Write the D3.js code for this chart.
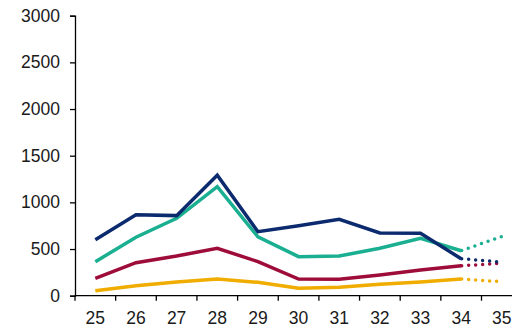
<!DOCTYPE html>
<html>
<head>
<meta charset="utf-8">
<script src="https://cdn.jsdelivr.net/npm/d3@7"></script>
<style>
  body { margin: 0; background: #fff; }
  svg text { font-family: "Liberation Sans", Arial, sans-serif; fill: #1a1a1a; }
</style>
</head>
<body>
<div id="chart"></div>
<script>
// categorias (eje x)
const categories = [25, 26, 27, 28, 29, 30, 31, 32, 33, 34, 35];
const yTicks = [0, 500, 1000, 1500, 2000, 2500, 3000];

// series observadas (25..34) y proyeccion punteada (34..35)
const navy   = [600, 868, 858, 1290, 686, 750, 818, 672, 668, 396];
const teal   = [364, 626, 829, 1168, 630, 418, 425, 508, 615, 482];
const red    = [186, 354, 425, 508, 365, 179, 176, 222, 275, 321];
const gold   = [54, 107, 147, 179, 143, 79, 90, 122, 147, 179];

const navyProj = [396, 360];
const tealProj = [482, 635];
const redProj  = [321, 347];
const goldProj = [179, 150];

const series = [
    { name: 'gold', color: '#f0ad00', values: gold, proj: goldProj },
    { name: 'red',  color: '#9e0c3a', values: red,  proj: redProj },
    { name: 'teal', color: '#1aaf91', values: teal, proj: tealProj },
    { name: 'navy', color: '#0c2a6e', values: navy, proj: navyProj }
];

const W = 512, H = 331;
const mLeft = 75, mTop = 15.7, mBottom = 295.7;
const band = 40.65;

const svg = d3.select('#chart').append('svg')
    .attr('width', W)
    .attr('height', H);

const x = d3.scaleBand()
    .domain(categories)
    .range([mLeft, mLeft + band * categories.length])
    .padding(0);

const y = d3.scaleLinear()
    .domain([0, 3000])
    .range([mBottom, mTop]);

const cx = c => x(c) + x.bandwidth() / 2;

// Eje Y
const yAxis = svg.append('g')
    .attr('transform', `translate(${mLeft},0)`)
    .call(d3.axisLeft(y).tickValues(yTicks).tickFormat(d3.format('d')).tickSize(5).tickPadding(10));
yAxis.select('.domain').attr('stroke', '#000').attr('stroke-width', 1.3);
yAxis.selectAll('.tick line').attr('stroke', '#000').attr('stroke-width', 1.3);
yAxis.selectAll('text').attr('font-size', '17.5px').attr('font-family', null);

// Eje X: linea, marcas en los limites de cada categoria y etiquetas centradas
svg.append('line')
    .attr('x1', mLeft).attr('x2', W)
    .attr('y1', mBottom).attr('y2', mBottom)
    .attr('stroke', '#000').attr('stroke-width', 1.3);

svg.selectAll('.xtick')
    .data(categories)
    .enter().append('line')
    .attr('class', 'xtick')
    .attr('x1', d => x(d)).attr('x2', d => x(d))
    .attr('y1', mBottom).attr('y2', mBottom + 5)
    .attr('stroke', '#000').attr('stroke-width', 1.3);

svg.selectAll('.xlabel')
    .data(categories)
    .enter().append('text')
    .attr('class', 'xlabel')
    .attr('x', d => cx(d))
    .attr('y', mBottom + 28)
    .attr('text-anchor', 'middle')
    .attr('font-size', '17.5px')
    .text(d => d);

const line = d3.line()
    .x(d => cx(d.c))
    .y(d => y(d.v));

// Lineas solidas
series.forEach(s => {
    const pts = s.values.map((v, i) => ({ c: categories[i], v }));
    svg.append('path')
        .datum(pts)
        .attr('fill', 'none')
        .attr('stroke', s.color)
        .attr('stroke-width', 3.5)
        .attr('stroke-linejoin', 'miter')
        .attr('d', line);
});

// Proyeccion punteada
series.forEach(s => {
    const pts = s.proj.map((v, i) => ({ c: categories[categories.length - 2 + i], v }));
    svg.append('path')
        .datum(pts)
        .attr('fill', 'none')
        .attr('stroke', s.color)
        .attr('stroke-width', 3.5)
        .attr('stroke-linecap', 'round')
        .attr('stroke-dasharray', '0 7')
        .attr('stroke-dashoffset', -7.5)
        .attr('d', line);
});
</script>
</body>
</html>
